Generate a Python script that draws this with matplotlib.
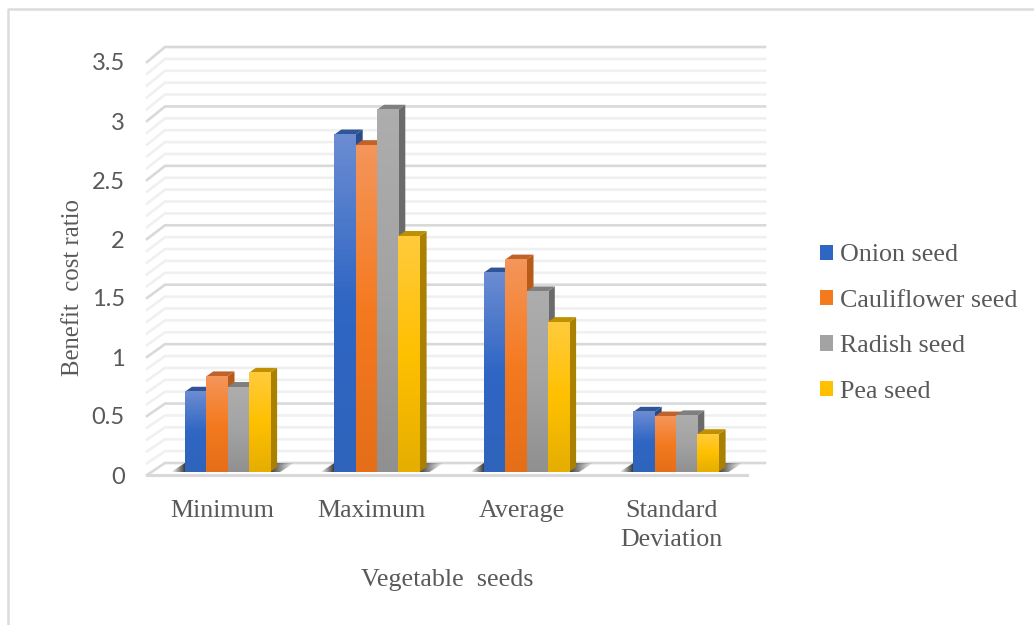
import numpy as np
import matplotlib
matplotlib.use('Agg')
import matplotlib.pyplot as plt
from matplotlib.colors import LinearSegmentedColormap
from matplotlib.lines import Line2D
from matplotlib.patches import Patch, Polygon

plt.rcParams['font.family'] = 'Liberation Serif'

# Data
categories = ['Minimum', 'Maximum', 'Average', 'Standard\nDeviation']
series_names = ['Onion seed', 'Cauliflower seed', 'Radish seed', 'Pea seed']
onion = [0.68, 2.86, 1.69, 0.51]
cauliflower = [0.81, 2.77, 1.80, 0.47]
radish = [0.72, 3.07, 1.53, 0.48]
pea = [0.84, 2.00, 1.27, 0.32]
y_ticks = [0, 0.5, 1, 1.5, 2, 2.5, 3, 3.5]
y_tick_labels = ['0', '0.5', '1', '1.5', '2', '2.5', '3', '3.5']

# Colours: legend/main, gradient top, gradient bottom, top face, side face
main_colors = ['#2F66C4', '#F47A20', '#A3A3A3', '#FFC000']
light_colors = ['#6B8CD2', '#F5955A', '#ADADAD', '#FFCB3C']
dark_colors = ['#3064BC', '#E56E18', '#909090', '#E5AE00']
top_colors = ['#2F5597', '#C0622C', '#7F7F7F', '#BF9000']
side_colors = ['#2C4C88', '#B85A18', '#6B6B6B', '#A98000']
text_color = '#595959'

W, H = 1034, 625
fig = plt.figure(figsize=(W / 100, H / 100), dpi=100)

# Axes placed so that the front plane matches the chart: 118 px per unit, 149.5 px per group
left, right, bottom, top = 147, 765, 475, 47
ax = fig.add_axes([left / W, 1 - bottom / H, (right - left) / W, (bottom - top) / H])
x_scale = 149.5
y_scale = 118.0
x0 = 227.5
ax.set_xlim((left - x0) / x_scale, (right - x0) / x_scale)
ax.set_ylim(0, (bottom - top) / y_scale)
for s in ax.spines.values():
    s.set_visible(False)
ax.patch.set_alpha(0)


def px_x(dx):
    return dx / x_scale


def px_y(dy):
    return dy / y_scale


def back_y(v):
    # the back wall sits 12 px above the front at 0 and 15 px above it at 3.5
    return v + px_y(12 + 3 * v / 3.5)


# gridlines on the back and side walls
x_front = ax.get_xlim()[0]
x_back = x_front + px_x(18)
x_end = ax.get_xlim()[1]
for v in np.arange(0, 36) / 10:
    major = abs(v * 2 - round(v * 2)) < 1e-6
    col = '#D9D9D9' if major else '#F0F0F0'
    ax.plot([x_front, x_back, x_end], [v, back_y(v), back_y(v)], color=col,
            lw=1.9, zorder=2 if major else 1, solid_joinstyle='miter', clip_on=False)

# front edge of the floor
ax.plot([x_front, x_end - px_x(18)], [0, 0], color='#D9D9D9', lw=2.2, zorder=2, clip_on=False)

all_values = [onion, cauliflower, radish, pea]
bar_w = px_x(21.3)
floor = px_y(3)
depth_x = px_x(7)
depth_y = px_y(5)
x = np.arange(len(categories))

# shadows on the floor, fading out on both ends of each group
shadow = np.zeros((1, 100, 4))
shadow[0, :, :3] = 0.1
shadow[0, :, 3] = np.interp(np.linspace(0, 1, 100), [0, 0.12, 0.78, 1], [0, 0.95, 0.95, 0])
for xi in x:
    x1 = xi - 2 * bar_w - px_x(14)
    x2 = xi + 2 * bar_w + px_x(24)
    im = ax.imshow(shadow, extent=[x1, x2, floor, floor + px_y(9)], aspect='auto', zorder=3,
                   interpolation='bilinear')
    im.set_clip_path(Polygon([[x1, floor], [x1 + px_x(14), floor + px_y(9)],
                              [x2, floor + px_y(9)], [x2 - px_x(14), floor]],
                             transform=ax.transData))

z = 4
for i, values in enumerate(all_values):
    cmap = LinearSegmentedColormap.from_list('bar', [dark_colors[i], main_colors[i], light_colors[i]])
    offset = (i - 1.5) * bar_w
    bars = ax.bar(x + offset, values, width=bar_w, bottom=floor, color=main_colors[i], zorder=z + 2, lw=0)
    for xi, v, b in zip(x, values, bars):
        x1 = xi + offset - bar_w / 2
        x2 = x1 + bar_w
        y2 = floor + v
        ax.add_patch(Polygon([[x2, floor], [x2 + depth_x, floor + depth_y],
                              [x2 + depth_x, y2 + depth_y], [x2, y2]],
                             color=side_colors[i], lw=0, zorder=z))
        ax.add_patch(Polygon([[x1, y2], [x1 + depth_x, y2 + depth_y],
                              [x2 + depth_x, y2 + depth_y], [x2, y2]],
                             color=top_colors[i], lw=0, zorder=z + 1))
        # vertical gradient on the front face
        grad = np.linspace(1, 0, 64).reshape(-1, 1)
        ax.imshow(grad, extent=[x1, x2, floor, y2], aspect='auto', cmap=cmap,
                  vmin=0, vmax=1, zorder=z + 2)
    z += 3

ax.set_xlim((left - x0) / x_scale, (right - x0) / x_scale)
ax.set_ylim(0, (bottom - top) / y_scale)

ax.set_yticks(y_ticks)
ax.set_yticklabels(y_tick_labels, fontfamily='Lato', fontsize=17, color=text_color)
ax.set_xticks(x - px_x(5))
ax.set_xticklabels(categories, fontsize=18.7, color=text_color, linespacing=1.42)
ax.tick_params(axis='both', length=0)
ax.tick_params(axis='y', pad=16)
ax.tick_params(axis='x', pad=18)

fig.text(447 / W, 1 - 580 / H, 'Vegetable  seeds', fontsize=18.7, color=text_color, ha='center', va='center')
fig.text(73 / W, 1 - 287 / H, 'Benefit  cost ratio', fontsize=17.8, color=text_color, ha='center', va='center',
         rotation=90)

handles = [Patch(facecolor=c, edgecolor='none') for c in main_colors]
fig.legend(handles, series_names, loc='upper left', bbox_to_anchor=(810 / W, 1 - 234 / H),
           frameon=False, fontsize=18.7, labelcolor=text_color, handlelength=0.5, handleheight=0.52,
           handletextpad=0.27, labelspacing=0.9, borderpad=0.4, borderaxespad=0)

# thin frame around the chart
fig.add_artist(Line2D([8 / W, 8 / W, 1], [0, 1 - 9 / H, 1 - 9 / H], color='#DCDCDC', lw=1.8))

fig.savefig('out.png', dpi=100)
